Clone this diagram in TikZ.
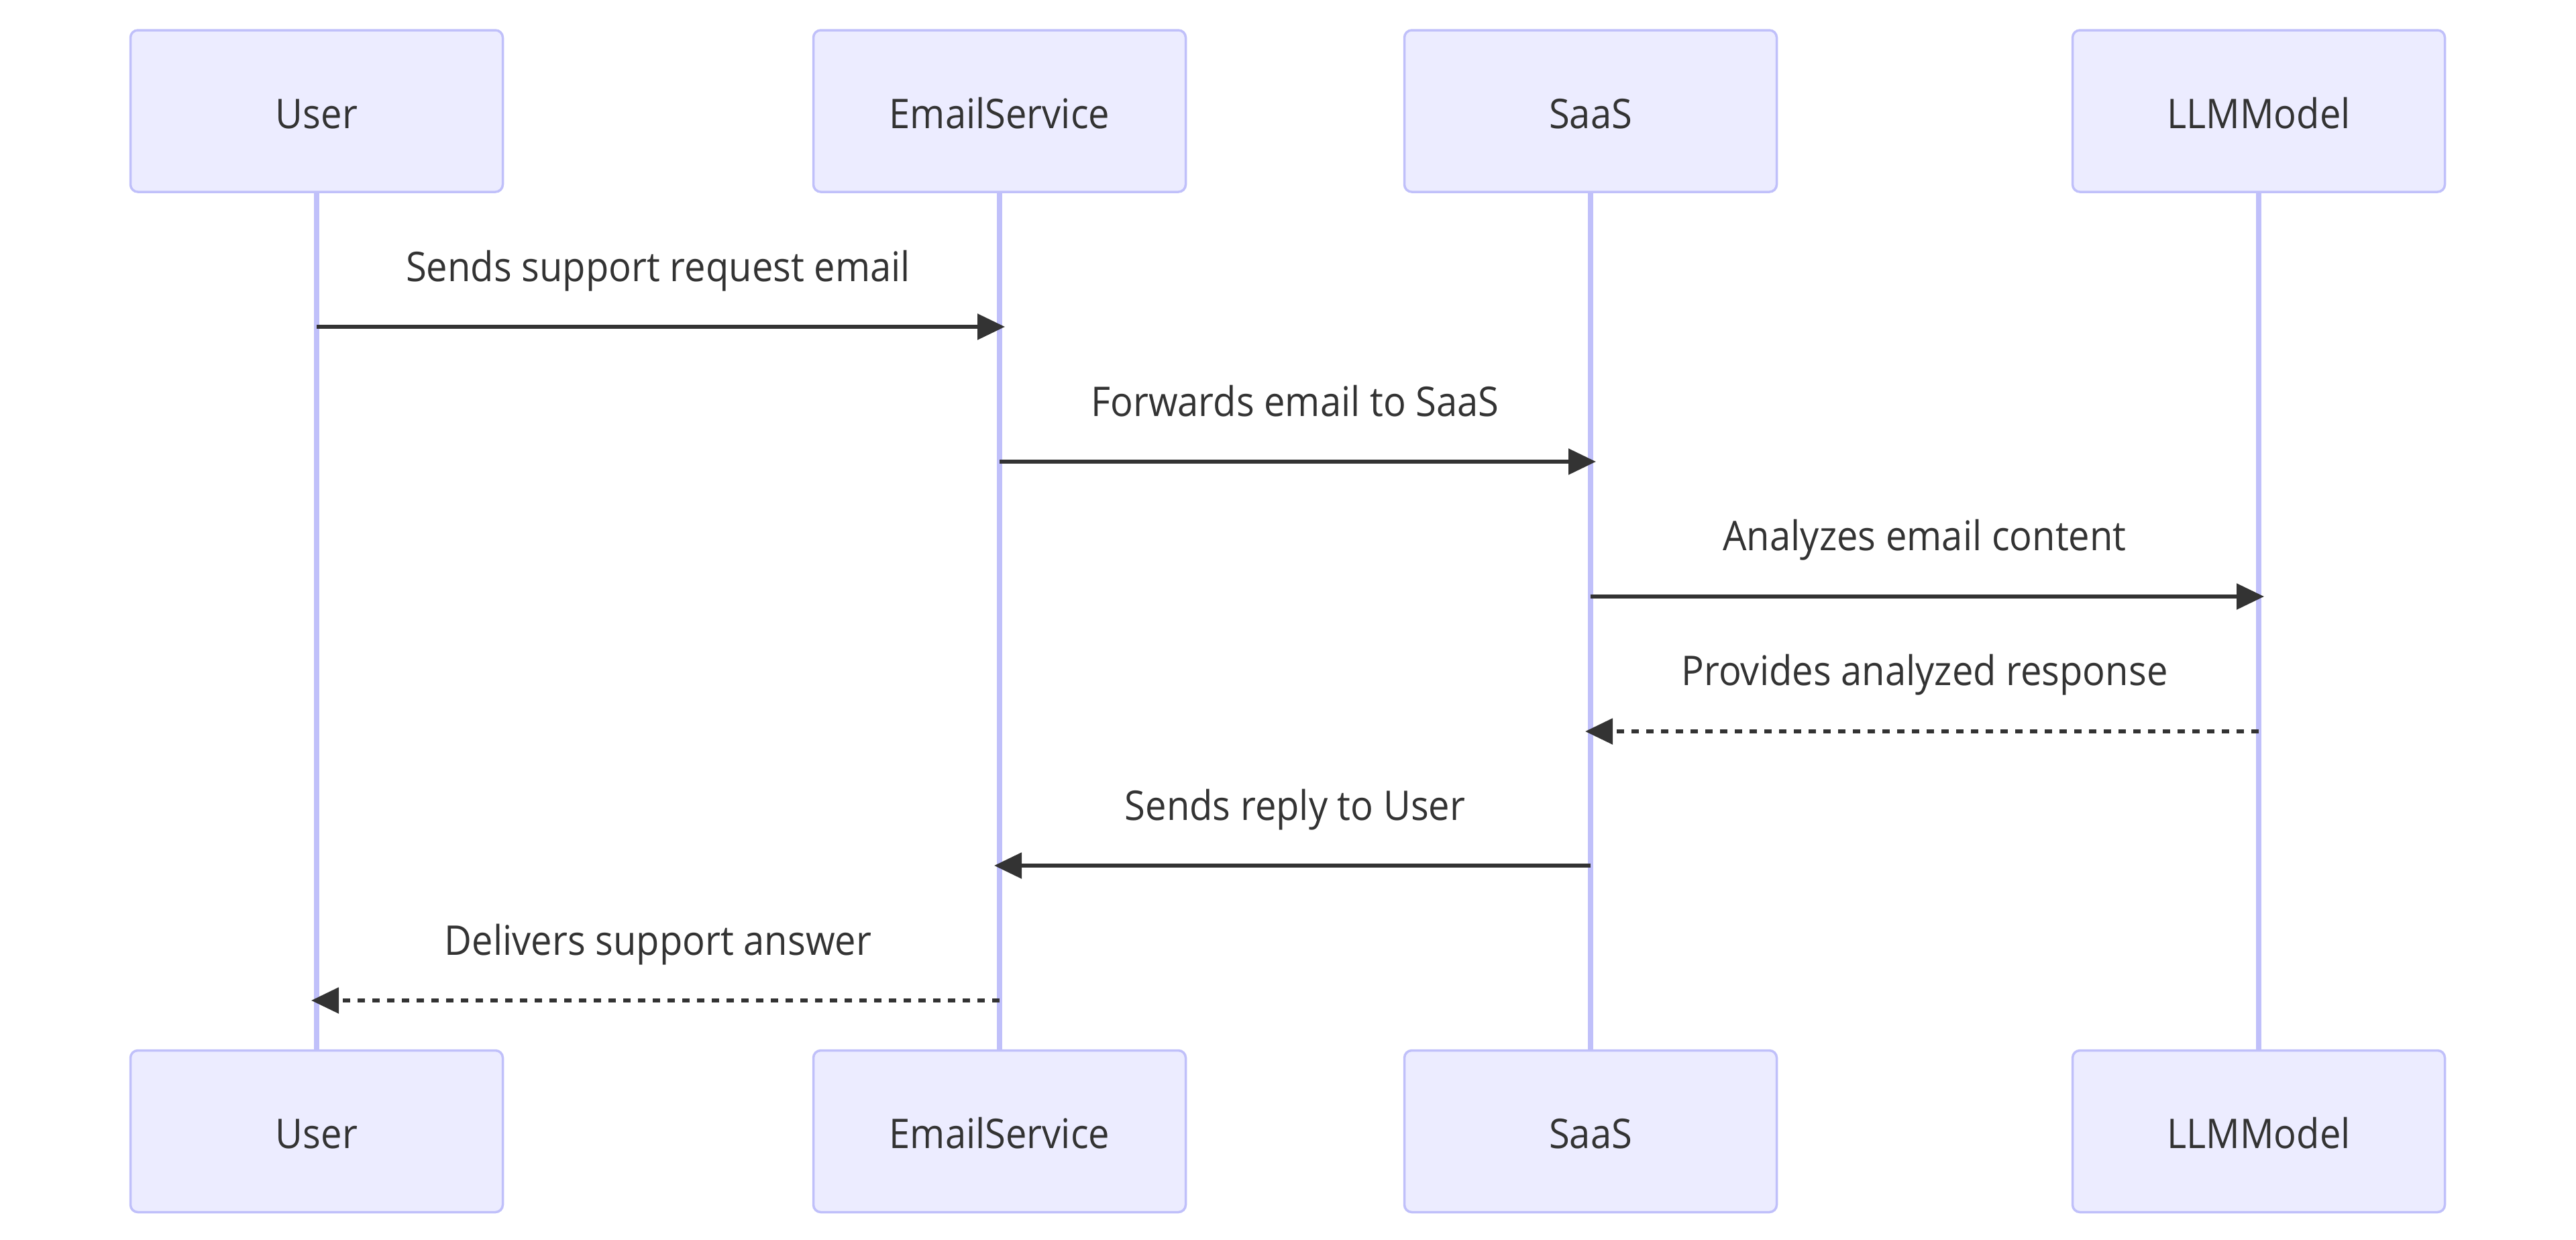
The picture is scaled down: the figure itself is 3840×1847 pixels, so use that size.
\documentclass[tikz,border=0pt]{standalone}
\usepackage{fontspec}
\setmainfont{Open Sans}[FakeStretch=0.92]
\usetikzlibrary{arrows.meta}
\definecolor{actfill}{HTML}{ECECFF}
\definecolor{actline}{RGB}{192,192,250}
\definecolor{msg}{HTML}{333333}
\pgfdeclarelayer{bg}
\pgfsetlayers{bg,main}
\begin{document}
\begin{tikzpicture}[x=1pt,y=-1pt,
  actor/.style={draw=actline, fill=actfill, line width=3.5pt, rounded corners=11pt,
    minimum width=555pt, minimum height=241pt, inner sep=0pt, text=msg,
    text height=51pt, text depth=0pt, font=\fontsize{61}{72}\selectfont},
  life/.style={draw=actline, line width=7.5pt},
  msgline/.style={draw=msg, line width=5.5pt, -{Triangle[length=41pt,width=38pt]}},
  reply/.style={msgline, dash pattern=on 11pt off 11pt},
  lbl/.style={text=msg, font=\fontsize{61}{72}\selectfont, anchor=base, inner sep=0pt}
]
\useasboundingbox (0,0) rectangle (3840,1847);
% actors
\node[actor] (uT) at (472,165.5) {User};
\node[actor] (eT) at (1490,165.5) {EmailService};
\node[actor] (sT) at (2371,165.5) {SaaS};
\node[actor] (lT) at (3367,165.5) {LLMModel};
\node[actor] (uB) at (472,1686) {User};
\node[actor] (eB) at (1490,1686) {EmailService};
\node[actor] (sB) at (2371,1686) {SaaS};
\node[actor] (lB) at (3367,1686) {LLMModel};
\begin{pgfonlayer}{bg}
  \fill[white] (0,0) rectangle (3840,1847);
  \draw[life] (uT) -- (uB);
  \draw[life] (eT) -- (eB);
  \draw[life] (sT) -- (sB);
  \draw[life] (lT) -- (lB);
\end{pgfonlayer}
% message end points
\coordinate (m1a) at (472,487);  \coordinate (m1b) at (1498,487);
\coordinate (m2a) at (1490,688); \coordinate (m2b) at (2379,688);
\coordinate (m3a) at (2371,889); \coordinate (m3b) at (3375,889);
\coordinate (m4a) at (3367,1090); \coordinate (m4b) at (2363,1090);
\coordinate (m5a) at (2371,1290); \coordinate (m5b) at (1482,1290);
\coordinate (m6a) at (1490,1491); \coordinate (m6b) at (464,1491);
\draw[msgline] (m1a) -- (m1b);
\draw[msgline] (m2a) -- (m2b);
\draw[msgline] (m3a) -- (m3b);
\draw[reply] (m4a) -- (m4b);
\draw[msgline] (m5a) -- (m5b);
\draw[reply] (m6a) -- (m6b);
% labels
\node[lbl] (l1) at (981,419) {Sends support request email};
\node[lbl] (l2) at (1930.5,620) {Forwards email to SaaS};
\node[lbl] (l3) at (2869,820) {Analyzes email content};
\node[lbl] (l4) at (2869,1021) {Provides analyzed response};
\node[lbl] (l5) at (1930.5,1222) {Sends reply to User};
\node[lbl] (l6) at (981,1423) {Delivers support answer};
\end{tikzpicture}
\end{document}
